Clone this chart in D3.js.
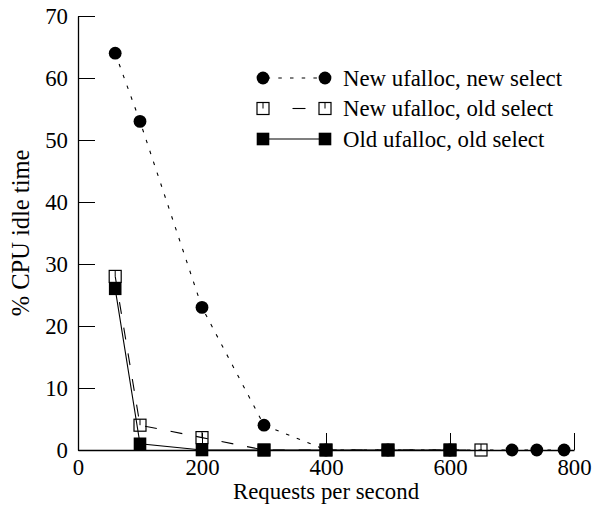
<!DOCTYPE html>
<html>
<head>
<meta charset="utf-8">
<script src="https://cdn.jsdelivr.net/npm/d3@7/dist/d3.min.js"></script>
<style>
  body { margin: 0; background: #fff; }
  svg { display: block; }
  svg text { font-family: "Liberation Serif", "Times New Roman", Times, serif; font-size: 22.8px; fill: #000; }
  .axis path, .axis line { stroke: #000; }
</style>
</head>
<body>
<div id="chart"></div>
<script>
// Series data (requests per second -> % CPU idle time)
var newNewX = [60, 100, 200, 300, 400, 500, 600, 700, 740, 784];
var newNewY = [64, 53, 23, 4, 0, 0, 0, 0, 0, 0];

var newOldX = [60, 100, 200, 300, 400, 500, 600, 650];
var newOldY = [28, 4, 2, 0, 0, 0, 0, 0];

var oldOldX = [60, 100, 200, 300, 400, 500, 600];
var oldOldY = [26, 1, 0, 0, 0, 0, 0];

var seriesNames = ["New ufalloc, new select", "New ufalloc, old select", "Old ufalloc, old select"];
var xTicks = [0, 200, 400, 600, 800];
var yTicks = [0, 10, 20, 30, 40, 50, 60, 70];

var svgWidth = 598, svgHeight = 506;
var margin = {top: 16, right: 24, bottom: 56, left: 78};
var width = svgWidth - margin.left - margin.right;
var height = svgHeight - margin.top - margin.bottom;

var x = d3.scaleLinear().domain([0, 800]).range([0, width]);
var y = d3.scaleLinear().domain([0, 70]).range([height, 0]);

function zip(xs, ys) {
  return xs.map(function(v, i) { return {x: v, y: ys[i]}; });
}

var series = [
  {name: seriesNames[0], data: zip(newNewX, newNewY), marker: "circle", dash: "3.5,8"},
  {name: seriesNames[1], data: zip(newOldX, newOldY), marker: "open", dash: "12,14"},
  {name: seriesNames[2], data: zip(oldOldX, oldOldY), marker: "filled", dash: null}
];

var svg = d3.select("#chart").append("svg")
  .attr("width", svgWidth)
  .attr("height", svgHeight)
  .append("g")
  .attr("transform", "translate(" + margin.left + "," + margin.top + ")");

// Axes
var xAxis = svg.append("g")
  .attr("class", "axis")
  .attr("transform", "translate(0," + height + ")")
  .call(d3.axisBottom(x).tickValues(xTicks).tickSizeInner(-17).tickSizeOuter(0).tickFormat(d3.format("d")));
xAxis.select(".domain").attr("stroke-width", 1.6);
xAxis.selectAll("text").attr("y", 25).attr("dy", null);

var yAxis = svg.append("g")
  .attr("class", "axis")
  .call(d3.axisLeft(y).tickValues(yTicks).tickSizeInner(-17).tickSizeOuter(0).tickPadding(10));
yAxis.select(".domain").attr("stroke-width", 1.3);
yAxis.selectAll("text").attr("x", -10);
svg.selectAll(".axis").attr("font-family", null).attr("font-size", null);

svg.append("text")
  .attr("x", width / 2)
  .attr("y", height + 49)
  .attr("text-anchor", "middle")
  .text("Requests per second");

svg.append("text")
  .attr("transform", "translate(" + (28.5 - margin.left) + "," + (height / 2) + ") rotate(-90)")
  .attr("text-anchor", "middle")
  .style("font-size", "24.5px")
  .text("% CPU idle time");

var line = d3.line()
  .x(function(d) { return x(d.x); })
  .y(function(d) { return y(d.y); });

function drawMarker(g, kind, cx, cy) {
  if (kind === "circle") {
    g.append("circle").attr("cx", cx).attr("cy", cy).attr("r", 6.4).attr("fill", "#000");
  } else if (kind === "filled") {
    g.append("rect").attr("x", cx - 6.3).attr("y", cy - 6.3)
      .attr("width", 12.6).attr("height", 12.6).attr("fill", "#000");
  } else {
    g.append("rect").attr("x", cx - 6).attr("y", cy - 6)
      .attr("width", 12).attr("height", 12)
      .attr("fill", "none").attr("stroke", "#000").attr("stroke-width", 1.2);
    g.append("line").attr("x1", cx).attr("x2", cx).attr("y1", cy - 6).attr("y2", cy)
      .attr("stroke", "#000").attr("stroke-width", 1);
  }
}

series.forEach(function(s) {
  var g = svg.append("g");
  g.append("path")
    .datum(s.data)
    .attr("fill", "none")
    .attr("stroke", "#000")
    .attr("stroke-width", 1.1)
    .attr("stroke-dasharray", s.dash)
    .attr("d", line);
  s.data.forEach(function(d) {
    drawMarker(g, s.marker, x(d.x), y(d.y));
  });
});

// Legend
var legendX1 = 263 - margin.left, legendX2 = 325 - margin.left;
var legendRows = [78, 108.5, 139];
var legendDash = [{dash: "3.5,8.2", offset: -3.6}, {dash: "13,60", offset: -29.5}, {dash: null, offset: 0}];

series.forEach(function(s, i) {
  var ly = legendRows[i] - margin.top;
  var g = svg.append("g");
  g.append("line")
    .attr("x1", legendX1).attr("x2", legendX2)
    .attr("y1", ly).attr("y2", ly)
    .attr("stroke", "#000")
    .attr("stroke-width", 1.1)
    .attr("stroke-dasharray", legendDash[i].dash)
    .attr("stroke-dashoffset", legendDash[i].offset);
  drawMarker(g, s.marker, legendX1, ly);
  drawMarker(g, s.marker, legendX2, ly);
  g.append("text")
    .attr("x", 343 - margin.left)
    .attr("y", ly + 7.8)
    .text(s.name);
});
</script>
</body>
</html>
